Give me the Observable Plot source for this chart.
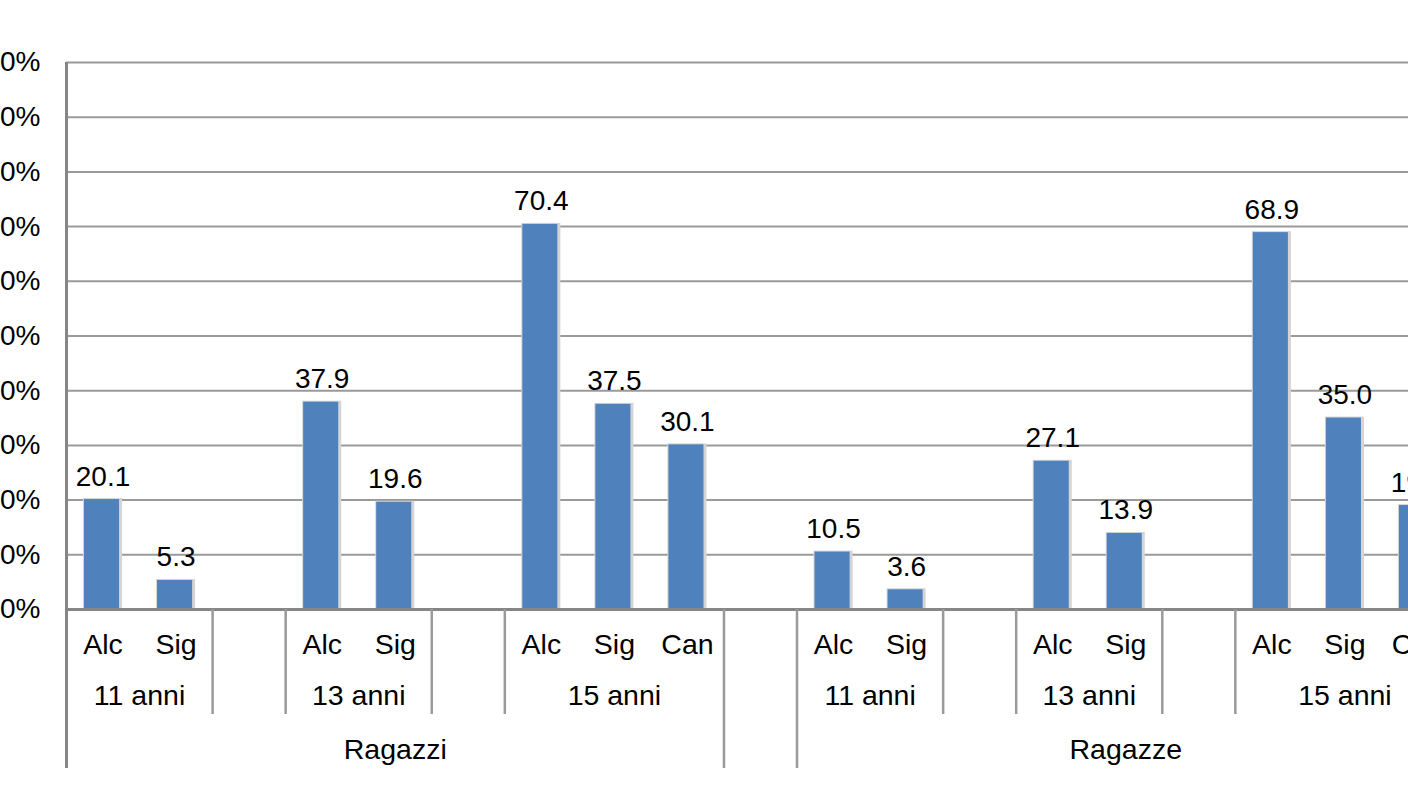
<!DOCTYPE html>
<html>
<head>
<meta charset="utf-8">
<script src="https://cdn.jsdelivr.net/npm/d3@7"></script>
<script src="https://cdn.jsdelivr.net/npm/@observablehq/plot@0.6"></script>
<style>
  html, body { margin: 0; padding: 0; background: #fff; overflow: hidden; width: 1408px; height: 792px; }
  #chart { width: 1408px; height: 792px; overflow: hidden; }
</style>
</head>
<body>
<div id="chart"></div>
<script>
// ---- data ----
const genders = ["Ragazzi", "Ragazze"];
const ages = ["11 anni", "13 anni", "15 anni"];
const substancesByAge = [["Alc", "Sig"], ["Alc", "Sig"], ["Alc", "Sig", "Can"]];
const ragazziValues = [20.1, 5.3, 37.9, 19.6, 70.4, 37.5, 30.1];
const ragazzeValues = [10.5, 3.6, 27.1, 13.9, 68.9, 35.0, 19.0];
const yTicks = [0, 10, 20, 30, 40, 50, 60, 70, 80, 90, 100];

// ---- build slot table (one empty slot after each age group) ----
const valuesByGender = [ragazziValues, ragazzeValues];
const bars = [], ageGroups = [], genderGroups = [], boundaries = [];
let slot = 0;
genders.forEach((g, gi) => {
  const gStart = slot;
  let k = 0;
  ages.forEach((a, ai) => {
    const aStart = slot;
    substancesByAge[ai].forEach(s => {
      bars.push({gender: g, age: a, sub: s, value: valuesByGender[gi][k++], i0: slot, i1: slot + 1});
      slot++;
    });
    ageGroups.push({label: a, start: aStart, end: slot});
    boundaries.push({x: aStart, long: ai === 0});
    boundaries.push({x: slot, long: ai === ages.length - 1});
    if (!(gi === genders.length - 1 && ai === ages.length - 1)) slot++;
  });
  genderGroups.push({label: g, start: gStart, end: gi === genders.length - 1 ? slot : slot - 1});
});
const nSlots = slot;

const marginTop = 62, plotBottom = 609, H = 792;
const plotH = plotBottom - marginTop;
const font = "Liberation Sans, Arial, sans-serif";

const chart = Plot.plot({
  width: 1474,
  height: H,
  marginLeft: 66,
  marginRight: 20,
  marginTop: marginTop,
  marginBottom: H - plotBottom,
  style: {fontFamily: font, maxWidth: "none", overflow: "visible", background: "#fff", color: "#000"},
  x: {domain: [0, nSlots], axis: null},
  y: {domain: [0, 100], axis: null},
  marks: [
    Plot.gridY(yTicks, {stroke: "#9a9a9a", strokeOpacity: 1, strokeWidth: 2}),
    Plot.axisY(yTicks, {tickSize: 0, tickPadding: 26, tickFormat: d => d + "%", fontSize: 28, fill: "#000", label: null}),
    // bar shadow
    Plot.rectY(bars, {x1: "i0", x2: "i1", y: "value", insetLeft: 17, insetRight: 17, dy: -1, fill: "#d4d4d4"}),
    Plot.rectY(bars, {x1: "i0", x2: "i1", y: "value", insetLeft: 18, insetRight: 20, fill: "#4f81bd"}),
    Plot.text(bars, {x: d => (d.i0 + d.i1) / 2, y: "value", text: d => d.value.toFixed(1), dy: -23, fontSize: 28, fill: "#000", lineAnchor: "middle"}),
    // axis lines
    Plot.ruleY([0], {stroke: "#868686", strokeWidth: 3}),
    Plot.ruleX([0], {stroke: "#868686", strokeWidth: 3, insetBottom: -159}),
    // category separators
    Plot.ruleX(boundaries.filter(d => !d.long && d.x !== 0), {x: "x", stroke: "#9a9a9a", strokeWidth: 2.5, insetTop: plotH, insetBottom: -105}),
    Plot.ruleX(boundaries.filter(d => d.long && d.x !== 0), {x: "x", stroke: "#9a9a9a", strokeWidth: 2.5, insetTop: plotH, insetBottom: -159}),
    // category labels
    Plot.text(bars, {x: d => (d.i0 + d.i1) / 2, text: "sub", frameAnchor: "bottom", dy: 35, fontSize: 28.5, fill: "#000", lineAnchor: "middle"}),
    Plot.text(ageGroups, {x: d => (d.start + d.end) / 2, text: "label", frameAnchor: "bottom", dy: 86, fontSize: 28.5, fill: "#000", lineAnchor: "middle"}),
    Plot.text(genderGroups, {x: d => (d.start + d.end) / 2, text: "label", frameAnchor: "bottom", dy: 140, fontSize: 28.5, fill: "#000", lineAnchor: "middle"})
  ]
});
document.getElementById("chart").appendChild(chart);
</script>
</body>
</html>
